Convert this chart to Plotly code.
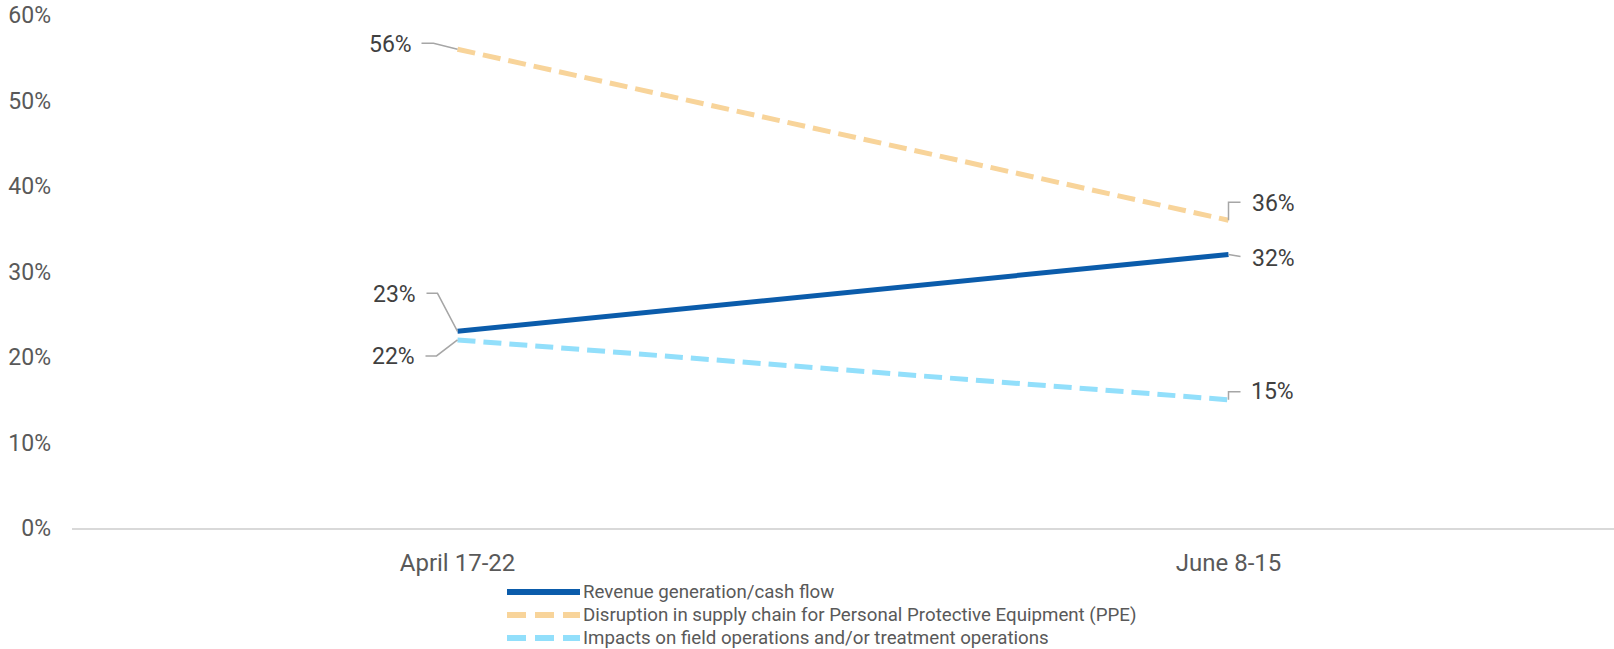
import plotly.graph_objects as go

# ---- data ----
categories = ["April 17-22", "June 8-15"]
series_names = [
    "Revenue generation/cash flow",
    "Disruption in supply chain for Personal Protective Equipment (PPE)",
    "Impacts on field operations and/or treatment operations",
]
revenue = [0.23, 0.32]
ppe = [0.56, 0.36]
impacts = [0.22, 0.15]
y_ticks = [0, 0.1, 0.2, 0.3, 0.4, 0.5, 0.6]

# ---- styles ----
colors = ["#0B5CAB", "#F8D49A", "#92DFFB"]
dashes = ["solid", "18px,8px", "18px,8px"]
legend_dashes = ["solid", "19px,9px", "19px,9px"]
W, H = 1614, 649
ML, MR, MT, MB = 72, 0, 15, 121
FONT = "Roboto"

series_values = [revenue, ppe, impacts]

fig = go.Figure()
for name, vals, col, dsh in zip(series_names, series_values, colors, dashes):
    fig.add_trace(go.Scatter(
        x=categories, y=vals, mode="lines", name=name,
        line=dict(color=col, width=5, dash=dsh),
        hoverinfo="skip", showlegend=False,
    ))

# data label offsets (pixels): (series index, point index, text xshift, text yshift, leader path)
label_specs = [
    (1, 0, -44, 5, "M0,0 L-24,6 L-36,6"),
    (0, 0, -40, 37, "M0,0 L-20,38 L-31,38"),
    (2, 0, -41, -17, "M0,0 L-21,-16 L-32,-16"),
    (1, 1, 21, 17, "M0,0 L0,18 L12,18"),
    (0, 1, 21, -4, "M0,0 L12,-2"),
    (2, 1, 20, 8, "M0,0 L0,8 L12,8"),
]
shapes = []
annotations = []
for si, pi, xs, ys, path in label_specs:
    v = series_values[si][pi]
    c = categories[pi]
    shapes.append(dict(
        type="path", xref="x", yref="y", xsizemode="pixel", ysizemode="pixel",
        xanchor=c, yanchor=v, path=path,
        line=dict(color="#A6A6A6", width=1.5), layer="above",
    ))
    annotations.append(dict(
        x=c, y=v, xref="x", yref="y", text=f"{round(v*100)}%", showarrow=False,
        xanchor="right" if xs < 0 else "left", yanchor="middle",
        xshift=xs, yshift=ys,
        font=dict(family=FONT, size=23, color="#404040"),
    ))

# manual legend (pixel positions in the page)
plot_w = W - ML - MR
plot_h = H - MT - MB
leg_rows = [592, 615, 638]
leg_x0, leg_x1, leg_tx = 507, 580, 581
for name, col, dsh, py in zip(series_names, colors, legend_dashes, leg_rows):
    yp = (H - MB - py) / plot_h
    shapes.append(dict(
        type="line", xref="paper", yref="paper",
        x0=(leg_x0 - ML) / plot_w, x1=(leg_x1 - ML) / plot_w, y0=yp, y1=yp,
        line=dict(color=col, width=6, dash=dsh),
    ))
    annotations.append(dict(
        x=(leg_tx - ML) / plot_w, y=yp, xref="paper", yref="paper",
        text=name, showarrow=False, xanchor="left", yanchor="middle",
        font=dict(family=FONT, size=18.7, color="#595959"),
    ))

fig.update_layout(
    width=W, height=H,
    margin=dict(l=ML, r=MR, t=MT, b=MB, pad=0),
    paper_bgcolor="white", plot_bgcolor="white",
    showlegend=False,
    shapes=shapes, annotations=annotations,
    font=dict(family=FONT, color="#595959"),
    xaxis=dict(
        type="category", categoryorder="array", categoryarray=categories,
        range=[-0.5, 1.5], showgrid=False, zeroline=False,
        showline=True, linecolor="#D9D9D9", linewidth=1.5,
        ticks="", ticklabelstandoff=12,
        tickfont=dict(family=FONT, size=24, color="#595959"),
        fixedrange=True,
    ),
    yaxis=dict(
        range=[0, 0.6], tickvals=y_ticks, tickformat=".0%",
        showgrid=False, zeroline=False, showline=False, ticks="",
        ticklabelstandoff=20,
        tickfont=dict(family=FONT, size=23, color="#595959"),
        fixedrange=True,
    ),
)

fig.write_html("out.html", config={"displayModeBar": False},
               post_script="document.body.style.margin='0';")
